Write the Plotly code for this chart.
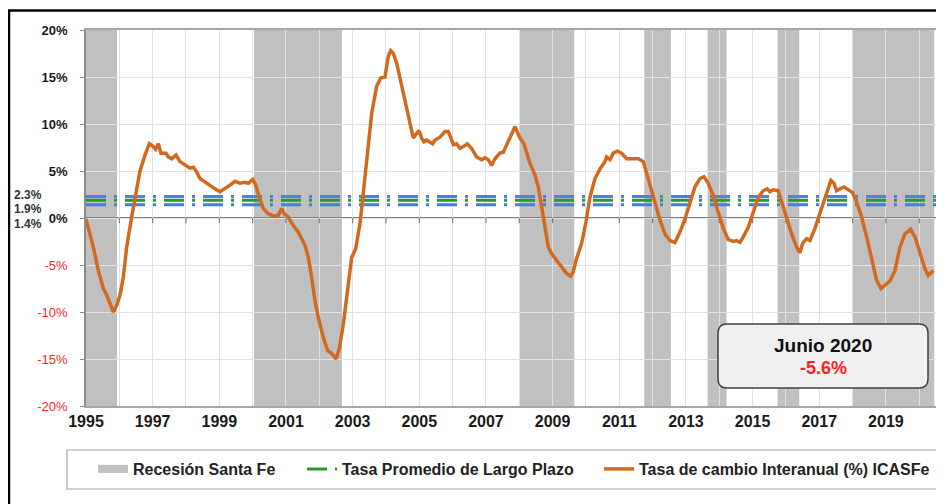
import plotly.graph_objects as go

# ---------------- data ----------------
years = [1995.00, 1995.10, 1995.22, 1995.37, 1995.52, 1995.62, 1995.72, 1995.82, 1995.92, 1996.02,
         1996.12, 1996.22, 1996.37, 1996.50, 1996.62, 1996.77, 1996.90, 1997.02, 1997.09, 1997.17,
         1997.25, 1997.40, 1997.47, 1997.57, 1997.70, 1997.82, 1997.97, 1998.12, 1998.22, 1998.32,
         1998.42, 1998.57, 1998.72, 1998.87, 1999.02, 1999.17, 1999.32, 1999.47, 1999.62, 1999.77,
         1999.87, 2000.00, 2000.08, 2000.20, 2000.32, 2000.45, 2000.62, 2000.77, 2000.87, 2000.94,
         2001.07, 2001.22, 2001.37, 2001.57, 2001.67, 2001.77, 2001.87, 2001.97, 2002.12, 2002.25,
         2002.37, 2002.50, 2002.60, 2002.72, 2002.84, 2002.97, 2003.09, 2003.22, 2003.30, 2003.42,
         2003.57, 2003.72, 2003.84, 2003.97, 2004.07, 2004.14, 2004.22, 2004.32, 2004.47, 2004.62,
         2004.72, 2004.82, 2004.92, 2004.99, 2005.07, 2005.14, 2005.22, 2005.32, 2005.40, 2005.47,
         2005.62, 2005.77, 2005.87, 2005.94, 2006.02, 2006.12, 2006.22, 2006.32, 2006.44, 2006.57,
         2006.72, 2006.87, 2006.97, 2007.07, 2007.17, 2007.27, 2007.42, 2007.52, 2007.62, 2007.72,
         2007.82, 2007.87, 2007.92, 2008.02, 2008.14, 2008.22, 2008.32, 2008.47, 2008.57, 2008.67,
         2008.77, 2008.87, 2008.97, 2009.12, 2009.27, 2009.42, 2009.54, 2009.62, 2009.72, 2009.87,
         2010.00, 2010.12, 2010.27, 2010.42, 2010.57, 2010.62, 2010.72, 2010.82, 2010.94, 2011.07,
         2011.22, 2011.37, 2011.57, 2011.72, 2011.82, 2011.92, 2012.07, 2012.22, 2012.37, 2012.52,
         2012.67, 2012.82, 2012.97, 2013.12, 2013.27, 2013.42, 2013.54, 2013.67, 2013.82, 2013.97,
         2014.12, 2014.27, 2014.42, 2014.52, 2014.62, 2014.72, 2014.87, 2015.02, 2015.17, 2015.32,
         2015.44, 2015.52, 2015.62, 2015.77, 2015.87, 2016.02, 2016.17, 2016.32, 2016.42, 2016.50,
         2016.62, 2016.72, 2016.87, 2017.02, 2017.17, 2017.27, 2017.35, 2017.44, 2017.52, 2017.62,
         2017.74, 2017.87, 2018.00, 2018.12, 2018.27, 2018.42, 2018.57, 2018.72, 2018.85, 2018.97,
         2019.12, 2019.27, 2019.42, 2019.57, 2019.74, 2019.87, 2020.02, 2020.17, 2020.27, 2020.42]

icasfe = [-0.1, -1.5, -3.1, -5.6, -7.5, -8.2, -9.2, -10.0, -9.3, -8.2,
          -6.3, -3.1, 0.1, 2.8, 5.0, 6.7, 7.9, 7.6, 7.3, 7.9,
          6.9, 6.9, 6.5, 6.3, 6.7, 6.0, 5.6, 5.3, 5.4, 4.9,
          4.2, 3.8, 3.5, 3.1, 2.8, 3.1, 3.5, 3.9, 3.7, 3.8,
          3.7, 4.1, 3.6, 2.2, 1.0, 0.5, 0.2, 0.3, 1.0, 0.5,
          0.1, -0.8, -1.5, -2.9, -4.2, -6.3, -8.8, -10.6, -12.7, -14.1,
          -14.4, -15.0, -13.9, -11.3, -8.1, -4.2, -3.3, -0.6, 2.0, 6.2,
          11.1, 14.0, 14.9, 15.0, 17.2, 17.8, 17.5, 16.5, 14.0, 11.5,
          10.1, 8.5, 9.0, 9.3, 8.5, 8.1, 8.3, 8.1, 7.9, 8.3,
          8.6, 9.2, 9.2, 8.6, 7.8, 7.9, 7.4, 7.6, 7.9, 7.4,
          6.5, 6.2, 6.4, 6.2, 5.6, 6.3, 6.9, 7.0, 7.8, 8.6,
          9.5, 9.7, 9.3, 8.5, 7.9, 7.0, 5.8, 4.6, 3.3, 1.2,
          -1.0, -3.1, -3.8, -4.5, -5.2, -5.9, -6.2, -5.7, -4.3, -2.7,
          -0.4, 2.2, 4.2, 5.2, 6.0, 6.5, 6.2, 6.9, 7.1, 6.9,
          6.3, 6.3, 6.3, 6.0, 4.7, 3.5, 1.7, -0.2, -1.7, -2.4,
          -2.6, -1.5, -0.1, 1.7, 3.3, 4.2, 4.4, 3.7, 2.4, 0.6,
          -1.1, -2.3, -2.5, -2.4, -2.6, -2.0, -1.0, 0.6, 2.2, 2.9,
          3.1, 2.8, 3.0, 2.9, 1.7, 0.1, -1.7, -3.1, -3.7, -2.7,
          -2.2, -2.4, -1.1, 0.5, 2.2, 3.3, 4.0, 3.7, 2.9, 3.1,
          3.3, 3.0, 2.7, 1.7, 0.1, -2.0, -4.5, -6.6, -7.5, -7.1,
          -6.7, -5.6, -3.1, -1.7, -1.2, -2.0, -3.8, -5.4, -6.1, -5.6]

recession_start = [1995.00, 2000.04, 2008.02, 2011.75, 2013.65, 2015.75, 2018.00]
recession_end = [1995.93, 2002.68, 2009.65, 2012.55, 2014.22, 2016.40, 2020.45]

avg_values = [2.3, 1.9, 1.4]          # long-term average rates (upper band, mean, lower band)
avg_labels = ["2.3%", "1.9%", "1.4%"]

x_tick_years = list(range(1995, 2021, 2))
all_years = list(range(1995, 2021))
y_ticks = [-20, -15, -10, -5, 0, 5, 10, 15, 20]

last_label = "Junio 2020"
last_value = -5.6

# ---------------- layout geometry ----------------
OFF = 8                      # page body margin of the html output
W, H = 944 - OFF, 504 - OFF
ML, MR, MT, MB = 86 - OFF, 0, 30 - OFF, 98
PW, PH = W - ML - MR, H - MT - MB
X0 = 1995
X1 = X0 + PW / 33.33
FONT = "Arial, Liberation Sans, sans-serif"


def px(xp):
    """page pixel x -> paper coordinate"""
    return (xp - OFF - ML) / PW


def py(yp):
    """page pixel y -> paper coordinate"""
    return (H - MB - (yp - OFF)) / PH


fig = go.Figure()

# recession bands
for s, e in zip(recession_start, recession_end):
    fig.add_shape(type="rect", xref="x", yref="paper", x0=s, x1=e, y0=0, y1=1,
                  fillcolor="#c0c0c0", line_width=0, layer="between")

# zero line above bands
fig.add_shape(type="line", xref="paper", yref="y", x0=0, x1=1, y0=0, y1=0,
              line=dict(color="#7f7f7f", width=2), layer="between")

# tick marks on the zero line
fig.add_trace(go.Scatter(
    x=all_years[1:], y=[0] * (len(all_years) - 1), mode="markers",
    marker=dict(size=1, color="rgba(0,0,0,0)"),
    error_y=dict(type="constant", symmetric=False, value=0, valueminus=0.55,
                 width=0, thickness=1.2, color="#7f7f7f"),
    showlegend=False, hoverinfo="skip"))

# long-term average lines
dash = "20px,8px,3px,8px"
avg_colors = ["#4a7ff0", "#2e962e", "#3a84d2"]
for v, c in zip(avg_values, avg_colors):
    fig.add_trace(go.Scatter(
        x=[X0, X1], y=[v, v], mode="lines",
        line=dict(color=c, width=3, dash=dash),
        showlegend=False, hoverinfo="skip"))

# main series
fig.add_trace(go.Scatter(
    x=years, y=icasfe, mode="lines",
    line=dict(color="#d2691e", width=3.5),
    name="<b>Tasa de cambio Interanual (%) ICASFe</b>",
    legend="legend3", showlegend=True))

# legend dummies
fig.add_trace(go.Scatter(
    x=[None], y=[None], mode="lines", line=dict(color="#c0c0c0", width=8),
    name="<b>Recesión Santa Fe</b>", legend="legend", showlegend=True))
fig.add_trace(go.Scatter(
    x=[None], y=[None], mode="lines", line=dict(color="#2e962e", width=3, dash=dash),
    name="<b>Tasa Promedio de Largo Plazo</b>", legend="legend2", showlegend=True))

# y tick labels
y_text = []
for v in y_ticks:
    if v < 0:
        y_text.append('<span style="color:#ff1f1f">%d%%</span>' % v)
    else:
        y_text.append('<b>%d%%</b>' % v)

fig.update_layout(
    width=W, height=H,
    margin=dict(l=ML, r=MR, t=MT, b=MB, autoexpand=False),
    paper_bgcolor="white", plot_bgcolor="white",
    font=dict(family=FONT, color="#1a1a1a"),
    xaxis=dict(range=[X0, X1], tickmode="array", tickvals=x_tick_years,
               ticktext=["<b>%d</b>" % y for y in x_tick_years],
               tickfont=dict(size=16, color="#1a1a1a"),
               showgrid=True, gridcolor="#e2e2e2", gridwidth=1,
               minor=dict(tickmode="array", tickvals=all_years, showgrid=True,
                          gridcolor="#e2e2e2", gridwidth=1),
               showline=True, linecolor="#a6a6a6", linewidth=1.5, mirror=True,
               ticks="", ticklen=0, zeroline=False, fixedrange=True),
    yaxis=dict(range=[-20, 20], tickmode="array", tickvals=y_ticks, ticktext=y_text,
               tickfont=dict(size=13, color="#1a1a1a"),
               showgrid=True, gridcolor="#e2e2e2", gridwidth=1,
               showline=True, linecolor="#8c8c8c", linewidth=1.5,
               ticks="outside", ticklen=4, tickcolor="#8c8c8c",
               ticklabelstandoff=10, zeroline=False, fixedrange=True),
)

leg_common = dict(orientation="h", yanchor="middle", y=py(469), xanchor="left",
                  bgcolor="rgba(0,0,0,0)", borderwidth=0,
                  font=dict(size=16, family=FONT, color="#222222"))
fig.update_layout(
    legend=dict(x=px(130 - 45 + 8), **leg_common),
    legend2=dict(x=px(336 - 45 + 11), **leg_common),
    legend3=dict(x=px(632 - 45 + 12), **leg_common),
)

# legend frame
fig.add_shape(type="rect", xref="paper", yref="paper",
              x0=px(67), x1=px(942), y0=py(489), y1=py(450),
              line=dict(color="#a6a6a6", width=1.2), fillcolor="rgba(0,0,0,0)", layer="above")

# outer black frame (left and top edges)
fig.add_shape(type="path", xref="paper", yref="paper",
              path="M %f %f L %f %f L %f %f" % (px(9), py(530), px(9), py(10.5), px(980), py(10.5)),
              line=dict(color="black", width=2.5), layer="above")

# left-hand labels for average lines
for v, lab, target in zip(avg_values, avg_labels, [195, 209.5, 223.5]):
    ypix = H - MB - (v + 20) * PH / 40 + OFF
    fig.add_annotation(xref="paper", yref="y", x=px(44), y=v, xanchor="right", yanchor="middle",
                       text="<b>%s</b>" % lab, showarrow=False, yshift=ypix - target,
                       font=dict(size=12, family=FONT, color="#333333"))

# rounded box with last value
bx0, bx1, by0, by1, r = 718, 928, 324, 388, 9
path = ("M %f %f L %f %f Q %f %f %f %f L %f %f Q %f %f %f %f L %f %f Q %f %f %f %f "
        "L %f %f Q %f %f %f %f Z") % (
    px(bx0 + r), py(by0), px(bx1 - r), py(by0),
    px(bx1), py(by0), px(bx1), py(by0 + r),
    px(bx1), py(by1 - r),
    px(bx1), py(by1), px(bx1 - r), py(by1),
    px(bx0 + r), py(by1),
    px(bx0), py(by1), px(bx0), py(by1 - r),
    px(bx0), py(by0 + r),
    px(bx0), py(by0), px(bx0 + r), py(by0))
fig.add_shape(type="path", xref="paper", yref="paper", path=path,
              fillcolor="#f0f0f0", line=dict(color="#404040", width=1.5), layer="above")
fig.add_annotation(xref="paper", yref="paper", x=px(823), y=py(345), showarrow=False,
                   text="<b>%s</b>" % last_label, xanchor="center", yanchor="middle",
                   font=dict(size=19, family=FONT, color="#111111"))
fig.add_annotation(xref="paper", yref="paper", x=px(823), y=py(368), showarrow=False,
                   text="<b>%.1f%%</b>" % last_value, xanchor="center", yanchor="middle",
                   font=dict(size=18, family=FONT, color="#ff1f1f"))

fig.write_html("out.html")
